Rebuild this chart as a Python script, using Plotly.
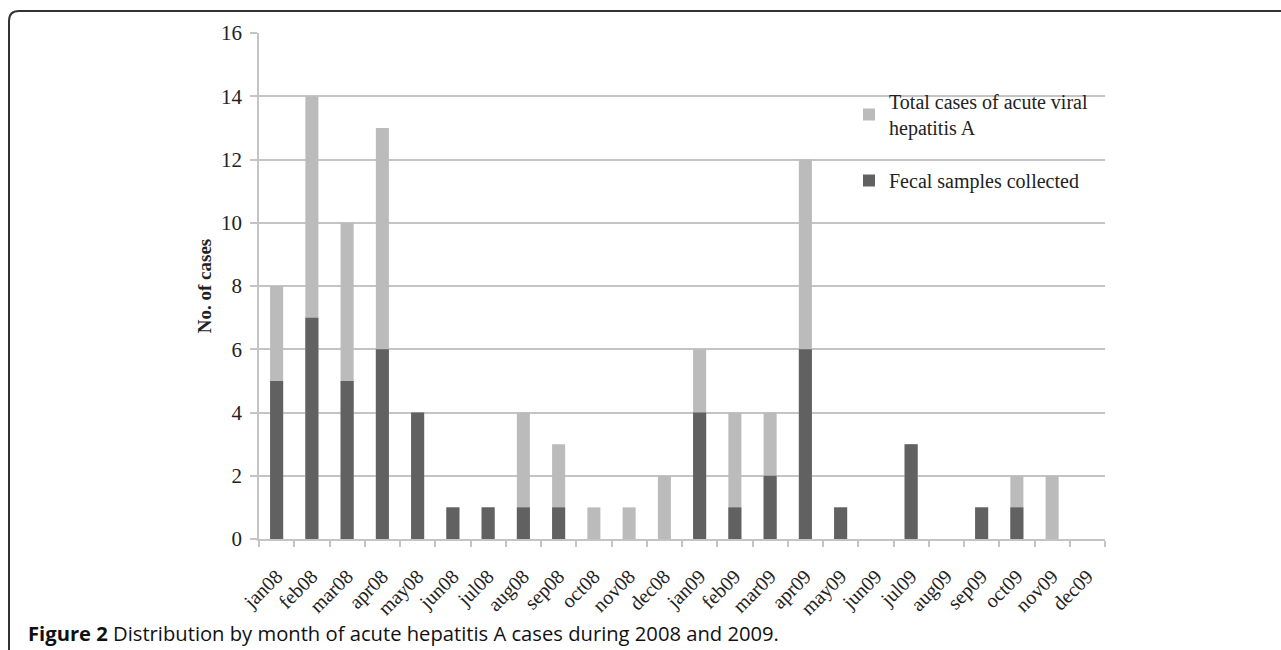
import plotly.graph_objects as go

months = ["jan08", "feb08", "mar08", "apr08", "may08", "jun08", "jul08", "aug08",
          "sep08", "oct08", "nov08", "dec08", "jan09", "feb09", "mar09", "apr09",
          "may09", "jun09", "jul09", "aug09", "sep09", "oct09", "nov09", "dec09"]
total_cases = [8, 14, 10, 13, 4, 1, 1, 4, 3, 1, 1, 2, 6, 4, 4, 12, 1, 0, 3, 0, 1, 2, 2, 0]
fecal_samples = [5, 7, 5, 6, 4, 1, 1, 1, 1, 0, 0, 0, 4, 1, 2, 6, 1, 0, 3, 0, 1, 1, 0, 0]
y_ticks = [0, 2, 4, 6, 8, 10, 12, 14, 16]

LIGHT = "#bbbbbb"
DARK = "#616161"
GRID = "#c4c4c4"
SERIF = "Liberation Serif"

fig = go.Figure()
fig.add_trace(go.Bar(x=months, y=total_cases, name="Total cases of acute viral<br>hepatitis A",
                     marker=dict(color=LIGHT, line=dict(width=0)), legendgroup="a"))
fig.add_trace(go.Bar(x=months, y=fecal_samples, name="Fecal samples collected",
                     marker=dict(color=DARK, line=dict(width=0)), legendgroup="b"))

W, H = 1281, 650
L, R, T, B = 259, 176, 33, 111
pw, ph = W - L - R, H - T - B

def px(x):
    return (x - L) / pw

def py(y):
    return (H - B - y) / ph

# outer frame with rounded top-left corner
x0, y0 = px(9), py(11)
xr, yb = px(1300), py(670)
rx, ry = 10 / pw, 10 / ph
frame = (f"M {x0},{yb} L {x0},{y0 - ry} Q {x0},{y0} {x0 + rx},{y0} L {xr},{y0}")

fig.update_layout(
    width=W, height=H,
    margin=dict(l=L, r=R, t=T, b=B),
    paper_bgcolor="white", plot_bgcolor="white",
    barmode="overlay", bargap=0.63,
    showlegend=True,
    legend=dict(x=px(849), y=py(82), xanchor="left", yanchor="top",
                bgcolor="rgba(0,0,0,0)", tracegroupgap=24,
                font=dict(family=SERIF, size=20, color="#222"),
                itemclick=False, itemdoubleclick=False),
    xaxis=dict(type="category", showgrid=False, showline=True, linecolor=GRID, linewidth=1.5,
               ticks="outside", tickson="boundaries", ticklen=6, tickcolor=GRID, tickwidth=1.5,
               tickangle=-45, ticklabelstandoff=16,
               tickfont=dict(family=SERIF, size=20, color="#222")),
    yaxis=dict(range=[0, 16], tickvals=y_ticks, showgrid=True, gridcolor=GRID, gridwidth=1.5,
               showline=True, linecolor=GRID, linewidth=1.5, ticks="outside", ticklen=7,
               tickcolor=GRID, tickwidth=1.5, zeroline=False,
               tickfont=dict(family=SERIF, size=21, color="#222"), ticklabelstandoff=4,
               title=dict(text="<b>No. of cases</b>", standoff=4,
                          font=dict(family=SERIF, size=19, color="#222"))),
    shapes=[
        dict(type="rect", xref="paper", yref="y", x0=px(852), x1=1.01, y0=9, y1=15,
             fillcolor="white", line=dict(width=0), layer="between"),
        dict(type="path", xref="paper", yref="paper", path=frame,
             line=dict(color="#333333", width=2)),
    ],
    annotations=[
        dict(xref="paper", yref="paper", x=px(26), y=py(633), xanchor="left", yanchor="middle",
             showarrow=False, align="left",
             text="<b>Figure 2</b> Distribution by month of acute hepatitis A cases during 2008 and 2009.",
             font=dict(family="Open Sans", size=20.2, color="#111")),
    ],
)

fig.write_html("out.html", config={"displayModeBar": False},
               post_script="document.body.style.margin='0';document.body.style.overflow='hidden';")
